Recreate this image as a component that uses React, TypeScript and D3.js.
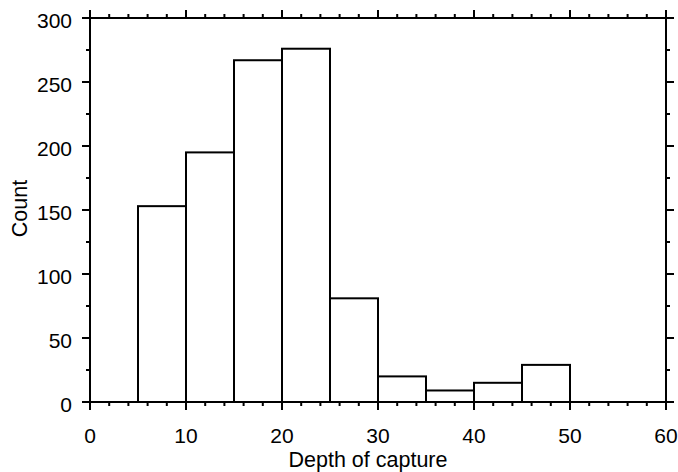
import React from "react";
import * as d3 from "d3";

const binStarts = [0, 5, 10, 15, 20, 25, 30, 35, 40, 45, 50, 55];
const binCounts = [0, 153, 195, 267, 276, 81, 20, 9, 15, 29, 0, 0];
const binWidth = 5;
const xTicks = [0, 10, 20, 30, 40, 50, 60];
const yTicks = [0, 50, 100, 150, 200, 250, 300];
const xMinor = [2, 4, 6, 8, 12, 14, 16, 18, 22, 24, 26, 28, 32, 34, 36, 38, 42, 44, 46, 48, 52, 54, 56, 58];
const yMinor = [25, 75, 125, 175, 225, 275];
const xTitle = "Depth of capture";
const yTitle = "Count";

const W = 678;
const H = 472;
const L = 90, R = 666, T = 18, B = 402;
const FONT = "'Liberation Sans', Arial, Helvetica, sans-serif";

export default function App() {
  const x = d3.scaleLinear().domain([0, 60]).range([L, R]);
  const y = d3.scaleLinear().domain([0, 300]).range([B, T]);
  const major = 8, minor = 4, sw = 2;
  return (
    <svg width={W} height={H} style={{ position: "absolute", left: 0, top: 0, background: "#fff" }}>
      <rect x={0} y={0} width={W} height={H} fill="#fff" />
      {binStarts.map((s, i) =>
        binCounts[i] > 0 ? (
          <rect key={i} x={x(s)} y={y(binCounts[i])} width={x(s + binWidth) - x(s)} height={y(0) - y(binCounts[i])}
            fill="#fff" stroke="#000" strokeWidth={sw} />
        ) : null
      )}
      <rect x={L} y={T} width={R - L} height={B - T} fill="none" stroke="#000" strokeWidth={sw} />
      <g stroke="#000" strokeWidth={sw}>
        {xTicks.map((t) => (
          <g key={"xm" + t}>
            <line x1={x(t)} x2={x(t)} y1={B} y2={B + major} />
            <line x1={x(t)} x2={x(t)} y1={T} y2={T - major} />
          </g>
        ))}
        {xMinor.map((t) => (
          <g key={"xn" + t}>
            <line x1={x(t)} x2={x(t)} y1={B} y2={B + minor} />
            <line x1={x(t)} x2={x(t)} y1={T} y2={T - minor} />
          </g>
        ))}
        {yTicks.map((t) => (
          <g key={"ym" + t}>
            <line x1={L} x2={L - major} y1={y(t)} y2={y(t)} />
            <line x1={R} x2={R + major} y1={y(t)} y2={y(t)} />
          </g>
        ))}
        {yMinor.map((t) => (
          <g key={"yn" + t}>
            <line x1={L} x2={L - minor} y1={y(t)} y2={y(t)} />
            <line x1={R} x2={R + minor} y1={y(t)} y2={y(t)} />
          </g>
        ))}
      </g>
      <g fontFamily={FONT} fontSize={21} fill="#000">
        {xTicks.map((t) => (
          <text key={"xl" + t} x={x(t)} y={443} textAnchor="middle">{t}</text>
        ))}
        {yTicks.map((t) => (
          <text key={"yl" + t} x={72} y={y(t) + 10} textAnchor="end">{t}</text>
        ))}
        <text x={368} y={466.5} textAnchor="middle" fontSize={21.5}>{xTitle}</text>
        <text transform={`translate(27,208.5) rotate(-90)`} textAnchor="middle" fontSize={21.5}>{yTitle}</text>
      </g>
    </svg>
  );
}
